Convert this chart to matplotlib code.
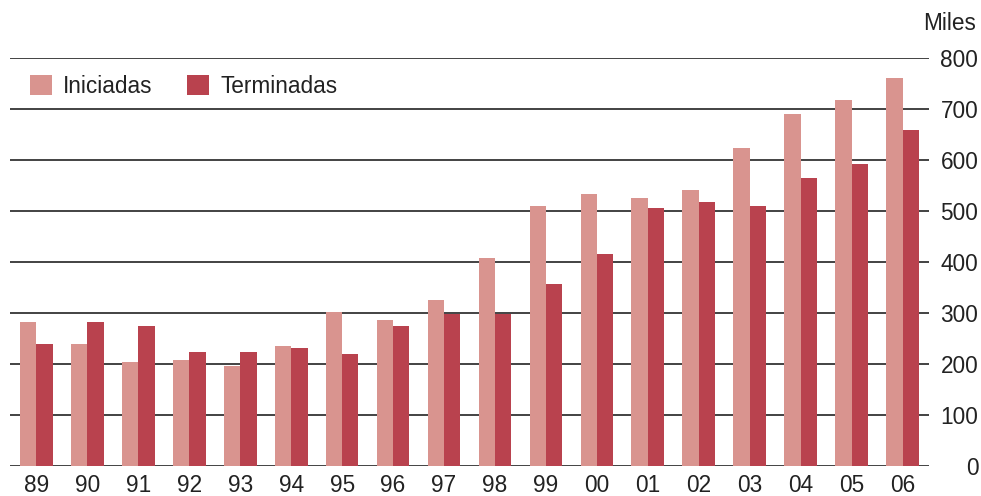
import matplotlib.pyplot as plt
import numpy as np

plt.rcParams['font.family'] = ['Liberation Sans', 'DejaVu Sans']

years = ['89', '90', '91', '92', '93', '94', '95', '96', '97', '98',
         '99', '00', '01', '02', '03', '04', '05', '06']
iniciadas = [282, 239, 204, 208, 196, 235, 302, 286, 325, 408,
             510, 533, 525, 541, 624, 690, 718, 761]
terminadas = [239, 282, 275, 224, 224, 231, 220, 275, 298, 298,
              357, 416, 506, 518, 510, 565, 592, 659]

c_ini = '#d9948f'
c_ter = '#b9424e'
fs = 16.3

fig = plt.figure(figsize=(9.81, 4.96), dpi=100)
ax = fig.add_axes([10 / 981, 30 / 496, 919 / 981, 408 / 496])

x = np.arange(len(years))
w = 0.32
ax.bar(x - w / 2, iniciadas, w, color=c_ini, label='Iniciadas', zorder=3)
ax.bar(x + w / 2, terminadas, w, color=c_ter, label='Terminadas', zorder=3)

ax.set_xlim(-0.52, len(years) - 0.48)
ax.set_ylim(0, 800)
ax.set_yticks(range(0, 801, 100))
ax.set_xticks(x)
ax.set_xticklabels(years)
ax.yaxis.grid(True, color='#222222', linewidth=1.2, zorder=1)
for s in ax.spines.values():
    s.set_visible(False)

ax.yaxis.tick_right()
ax.tick_params(axis='y', length=0, pad=35.5, labelsize=fs, colors='#222222')
for lbl in ax.get_yticklabels():
    lbl.set_ha('right')
ax.tick_params(axis='x', length=0, pad=6, labelsize=fs, colors='#222222')

# "Miles" unit label above the right-hand tick labels
fig.text(976 / 981, 1 - 23 / 496, 'Miles', ha='right', va='center',
         fontsize=fs, color='#222222')

ax.legend(loc='upper left', bbox_to_anchor=(30 / 981, 1 - 75 / 496),
          bbox_transform=fig.transFigure, ncol=2, frameon=False,
          fontsize=fs, handlelength=0.95, handleheight=0.95, handletextpad=0.5,
          columnspacing=1.55, borderaxespad=0, borderpad=0, labelcolor='#222222')

fig.savefig('out.png', dpi=100)
